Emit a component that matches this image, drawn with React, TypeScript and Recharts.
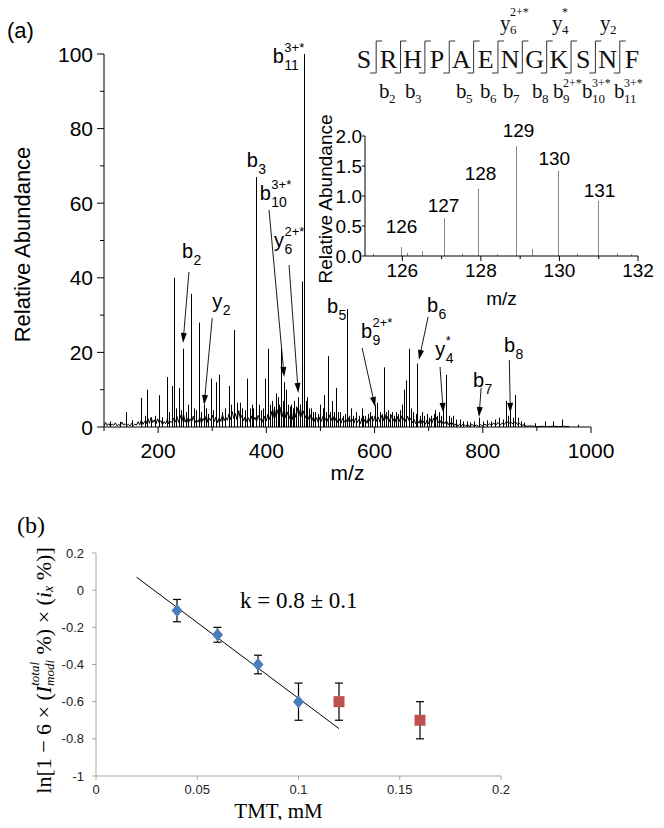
import React from "react";
import {
  ComposedChart,
  Bar,
  Line,
  Scatter,
  ErrorBar,
  XAxis,
  YAxis,
  ReferenceLine,
  ReferenceDot,
  Label,
} from "recharts";

const SANS = '"Liberation Sans", Arial, sans-serif';
const SERIF = '"Liberation Serif", "Times New Roman", serif';

// ---------- (a) MS/MS spectrum: [m/z, relative abundance] ----------
const spectrumPeaks: [number, number][] = [
  [111, 1.5], [129, 1.4], [141, 4], [152, 1.8], [168, 7.8], [175, 3], [180, 10], [186, 2.5],
  [194, 3], [201, 8.5], [208, 2.6], [217, 13.4], [221, 4], [226, 11], [229, 40], [234, 5],
  [239, 10.5], [243, 4.5], [246, 21], [252, 4], [256, 6], [261, 35.7], [266, 5], [270, 4.5],
  [276, 28], [280, 4], [284, 6], [289, 5], [293, 3.5], [298, 13], [302, 4.5], [307, 12],
  [313, 14], [318, 4], [324, 5], [331, 11], [335, 6], [340, 26], [345, 6.5], [351, 6.5],
  [356, 5], [360, 4.5], [364, 13], [369, 5], [373, 6], [376, 5], [381, 67], [386, 6],
  [390, 4.5], [394, 5], [398, 13], [403, 21], [407, 6], [411, 7], [414, 5.5], [417, 9],
  [421, 8], [424, 6], [427, 21], [430, 7], [433, 12], [436, 10], [440, 6], [443, 5.5],
  [446, 6], [449, 5], [452, 7], [455, 5.5], [459, 8], [462, 6], [466, 39], [470, 100],
  [474, 7], [476, 8], [479, 5], [482, 5], [486, 4], [490, 4], [495, 3.5], [500, 6],
  [504, 5], [507, 8.5], [511, 4], [514, 19], [518, 4], [521, 7], [525, 4], [529, 10.5],
  [533, 4], [536, 4], [541, 3], [545, 3.5], [549, 31.6], [553, 3], [556, 5], [560, 3],
  [566, 4], [571, 3], [576, 5], [579, 3], [583, 3], [588, 3.5], [591, 4], [596, 3],
  [601, 6], [605, 6.5], [610, 4], [613, 3.5], [617, 16], [621, 4], [625, 4.5], [629, 3.5],
  [632, 4], [636, 3], [640, 4], [644, 3.5], [647, 4.5], [651, 6], [655, 10], [659, 12.5],
  [664, 21], [668, 5], [672, 4], [676, 3.5], [679, 17], [684, 3], [688, 4], [692, 3],
  [697, 3.5], [701, 2.5], [705, 3], [709, 3.5], [712, 4.5], [716, 3], [719, 4], [723, 3],
  [727, 6], [732, 14], [737, 3], [741, 2.5], [745, 3], [751, 2], [758, 2], [764, 1.5],
  [770, 1.5], [777, 1.2], [784, 1.5], [793, 2.5], [800, 1.5], [808, 1.8], [815, 1.5], [822, 2],
  [830, 2.5], [837, 2], [843, 7], [847, 3], [851, 4.5], [856, 2.5], [860, 8.6], [865, 2.5],
  [870, 1.5], [876, 1.2], [897, 1], [915, 1.5], [930, 1.5], [947, 2], [976, 0.6],
];

const baselineNoise: [number, number][] = [
  [100, 0.3], [103, 1.2], [106, 0.4], [109, 0.9], [112, 0.3], [115, 0.8], [118, 0.5], [121, 1.1],
  [124, 0.3], [127, 0.7], [130, 0.4], [133, 1.3], [136, 0.5], [139, 0.9], [142, 0.4], [145, 0.7],
  [148, 0.3], [151, 1.0], [154, 0.4], [157, 0.8], [160, 0.5], [163, 1.4], [166, 0.6], [169, 1.8],
  [172, 0.7], [175, 1.5], [178, 0.9], [181, 2.3], [184, 1.0], [187, 2.6], [190, 1.2], [193, 1.9],
  [196, 0.8], [199, 2.2], [202, 1.1], [205, 1.7], [208, 0.6], [211, 1.4], [214, 0.9], [217, 2.0],
  [220, 0.8], [223, 1.6], [226, 1.1], [229, 2.4], [232, 1.3], [235, 2.8], [238, 1.2], [241, 3.1],
  [244, 1.5], [247, 3.4], [250, 1.3], [253, 2.5], [256, 1.0], [259, 2.2], [262, 1.4], [265, 2.9],
  [268, 1.1], [271, 2.0], [274, 1.3], [277, 2.6], [280, 1.0], [283, 2.3], [286, 1.5], [289, 3.0],
  [292, 1.2], [295, 2.4], [298, 1.6], [301, 3.2], [304, 1.4], [307, 2.7], [310, 1.1], [313, 2.5],
  [316, 1.5], [319, 3.3], [322, 1.7], [325, 2.6], [328, 1.8], [331, 3.5], [334, 2.0], [337, 4.1],
  [340, 2.2], [343, 3.6], [346, 1.9], [349, 4.4], [352, 2.1], [355, 3.2], [358, 1.6], [361, 2.8],
  [364, 1.4], [367, 2.5], [370, 1.3], [373, 3.0], [376, 1.7], [379, 2.6], [382, 1.5], [385, 3.1],
  [388, 1.8], [391, 2.4], [394, 1.2], [397, 2.9], [400, 1.6], [403, 3.4], [406, 2.0], [409, 4.2],
  [412, 2.3], [415, 5.0], [418, 2.6], [421, 4.6], [424, 2.4], [427, 5.3], [430, 2.8], [433, 4.8],
  [436, 2.5], [439, 4.0], [442, 2.2], [445, 3.6], [448, 2.0], [451, 4.5], [454, 2.6], [457, 5.2],
  [460, 2.9], [463, 4.9], [466, 2.7], [469, 4.3], [472, 2.4], [475, 3.8], [478, 2.1], [481, 3.3],
  [484, 1.6], [487, 2.8], [490, 1.4], [493, 2.5], [496, 1.2], [499, 2.7], [502, 1.5], [505, 3.0],
  [508, 1.7], [511, 2.6], [514, 1.5], [517, 3.2], [520, 1.8], [523, 2.9], [526, 1.4], [529, 2.5],
  [532, 1.2], [535, 2.2], [538, 1.0], [541, 2.4], [544, 1.3], [547, 2.0], [550, 1.1], [553, 2.6],
  [556, 1.4], [559, 2.1], [562, 1.0], [565, 2.4], [568, 1.2], [571, 2.0], [574, 0.9], [577, 2.5],
  [580, 1.3], [583, 2.2], [586, 1.0], [589, 2.6], [592, 1.4], [595, 2.8], [598, 1.6], [601, 3.0],
  [604, 1.5], [607, 2.7], [610, 1.3], [613, 3.1], [616, 1.7], [619, 3.4], [622, 1.8], [625, 2.9],
  [628, 1.4], [631, 3.2], [634, 1.6], [637, 2.5], [640, 1.2], [643, 2.8], [646, 1.5], [649, 3.0],
  [652, 1.7], [655, 2.6], [658, 1.4], [661, 2.9], [664, 1.6], [667, 2.4], [670, 1.1], [673, 2.0],
  [676, 0.9], [679, 1.8], [682, 1.0], [685, 2.2], [688, 0.8], [691, 1.6], [694, 0.7], [697, 1.9],
  [700, 0.9], [703, 2.1], [706, 1.0], [709, 2.4], [712, 1.2], [715, 2.6], [718, 1.1], [721, 1.8],
  [724, 0.8], [727, 1.5], [730, 0.9], [733, 1.7], [736, 0.6], [739, 1.3], [742, 0.5], [745, 1.1],
  [748, 0.4], [751, 0.9], [754, 0.3], [757, 0.7], [760, 0.3], [764, 0.8], [768, 0.3], [772, 0.6],
  [776, 0.2], [780, 0.7], [784, 0.3], [788, 0.5], [792, 0.2], [796, 0.6], [800, 0.3], [804, 0.8],
  [808, 0.3], [812, 0.9], [816, 0.4], [820, 1.1], [824, 0.5], [828, 1.2], [832, 0.6], [836, 1.0],
  [840, 0.7], [844, 1.6], [848, 0.9], [852, 1.3], [856, 0.8], [860, 1.5], [864, 0.7], [868, 1.0],
  [872, 0.4], [876, 0.6], [880, 0.2], [890, 0.3], [900, 0.1], [910, 0.2], [920, 0.1], [930, 0.2],
  [940, 0.1], [950, 0.2], [960, 0.1],
];

// fragment ion annotations, anchored in (m/z, abundance)
const ionLabels = [
  { ion: "b", sub: "11", sup: "3+*", mz: 412, ab: 97.6 },
  { ion: "b", sub: "3", sup: "", mz: 364, ab: 69.7 },
  { ion: "b", sub: "10", sup: "3+*", mz: 388, ab: 60.9 },
  { ion: "y", sub: "6", sup: "2+*", mz: 414, ab: 48.3 },
  { ion: "b", sub: "2", sup: "", mz: 244, ab: 45.3 },
  { ion: "y", sub: "2", sup: "", mz: 300, ab: 32 },
  { ion: "b", sub: "5", sup: "", mz: 512, ab: 30.6 },
  { ion: "b", sub: "9", sup: "2+*", mz: 575, ab: 23.9 },
  { ion: "b", sub: "6", sup: "", mz: 697, ab: 30.8 },
  { ion: "y", sub: "4", sup: "*", mz: 712, ab: 19 },
  { ion: "b", sub: "7", sup: "", mz: 782, ab: 10.7 },
  { ion: "b", sub: "8", sup: "", mz: 839, ab: 20 },
];

const ionArrows = [
  { from: [257, 41.6], to: [246, 22.5] },
  { from: [300, 29.2], to: [285, 5.9] },
  { from: [405, 58.2], to: [433, 13.4] },
  { from: [442, 43.4], to: [459, 9.1] },
  { from: [577, 21.2], to: [601, 5.4] },
  { from: [699, 29.5], to: [682, 18] },
  { from: [721, 16.1], to: [727, 3.8] },
  { from: [797, 10.5], to: [793, 2.7] },
  { from: [849, 18], to: [851, 3.8] },
];

// inset: TMT reporter ions
const reporterPeaks: [number, number][] = [
  [125.25, 0.04], [125.96, 0.15], [126.12, 0.05], [126.5, 0.08], [127.05, 0.63], [127.5, 0.04],
  [127.93, 1.12], [128.4, 0.03], [128.89, 1.83], [129.3, 0.12], [129.95, 1.42], [130.45, 0.04],
  [130.97, 0.92], [131.45, 0.05], [131.8, 0.03],
];
const reporterLabels = [
  { text: "126", mz: 125.98, ab: 0.38 },
  { text: "127", mz: 127.05, ab: 0.73 },
  { text: "128", mz: 127.99, ab: 1.27 },
  { text: "129", mz: 128.96, ab: 1.98 },
  { text: "130", mz: 129.87, ab: 1.52 },
  { text: "131", mz: 131.02, ab: 0.98 },
];

// peptide scheme
const peptide = "SRHPAENGKSNF".split("");
const bFragments = [
  { n: "2", sup: "" }, { n: "3", sup: "" }, { n: "5", sup: "" }, { n: "6", sup: "" },
  { n: "7", sup: "" }, { n: "8", sup: "" }, { n: "9", sup: "2+*" }, { n: "10", sup: "3+*" },
  { n: "11", sup: "3+*" },
];
const yFragments = [
  { n: "6", sup: "2+*" }, { n: "4", sup: "*" }, { n: "2", sup: "" },
];
const bLabelX = [379, 405, 456, 480, 503, 532, 553, 582, 614];
const yLabelX = [500, 552, 600];

// ---------- (b) kinetics ----------
const tmtConc = [0.04, 0.06, 0.08, 0.1];
const lnRatio = [-0.11, -0.24, -0.4, -0.6];
const lnError = [0.06, 0.04, 0.05, 0.1];
const outlierConc = [0.12, 0.16];
const outlierRatio = [-0.6, -0.7];
const outlierError = [0.1, 0.1];
const fitX = [0.02, 0.12];
const fitY = [0.07, -0.745];

const peakData = spectrumPeaks.map(([mz, ab]) => ({ mz, ab }));
const noiseData = baselineNoise.map(([mz, ab]) => ({ mz, ab }));
const reporterData = reporterPeaks.map(([mz, ab]) => ({ mz, ab }));
const fitData = tmtConc.map((x, i) => ({ x, y: lnRatio[i], err: lnError[i] }));
const outlierData = outlierConc.map((x, i) => ({ x, y: outlierRatio[i], err: outlierError[i] }));
const lineData = fitX.map((x, i) => ({ x, y: fitY[i] }));

const specXTicks = [100, 200, 300, 400, 500, 600, 700, 800, 900, 1000];
const specYTicks = [0, 10, 20, 30, 40, 50, 60, 70, 80, 90, 100];
const insetXTicks = [126, 127, 128, 129, 130, 131, 132];
const insetYTicks = [0, 0.5, 1, 1.5, 2];

const SpecYTick = (p: any) => {
  const major = p.payload.value % 20 === 0;
  return (
    <g>
      <line x1={p.x - (major ? 7 : 4)} x2={p.x} y1={p.y} y2={p.y} stroke="#000" />
      {major && (
        <text x={p.x - 11} y={p.y} dy="0.36em" textAnchor="end" fontSize={21} fontFamily={SANS} fill="#000">
          {p.payload.value}
        </text>
      )}
    </g>
  );
};

const SpecXTick = (p: any) => {
  const major = p.payload.value % 200 === 0;
  return (
    <g>
      <line x1={p.x} x2={p.x} y1={p.y} y2={p.y + (major ? 6 : 4)} stroke="#000" />
      {major && (
        <text x={p.x} y={p.y + 31} textAnchor="middle" fontSize={21} fontFamily={SANS} fill="#000">
          {p.payload.value}
        </text>
      )}
    </g>
  );
};

const InsetYTick = (p: any) => (
  <g>
    <line x1={p.x - 3} x2={p.x} y1={p.y} y2={p.y} stroke="#000" />
    <text x={p.x - 3} y={p.y} dy="0.36em" textAnchor="end" fontSize={19} fontFamily={SANS} fill="#000">
      {p.payload.value.toFixed(1)}
    </text>
  </g>
);

const InsetXTick = (p: any) => {
  const major = p.payload.value % 2 === 0;
  return (
    <g>
      <line x1={p.x} x2={p.x} y1={p.y} y2={p.y + (major ? 5 : 3)} stroke="#000" />
      {major && (
        <text x={p.x} y={p.y + 21} textAnchor="middle" fontSize={19} fontFamily={SANS} fill="#000">
          {p.payload.value}
        </text>
      )}
    </g>
  );
};

// crisp 1px stick for each peak
const stick = (color: string) => (p: any) => {
  if (!p.height) return <g />;
  const cx = Math.round(p.x + p.width / 2) + 0.5;
  return <line x1={cx} x2={cx} y1={p.y} y2={p.y + p.height} stroke={color} strokeWidth={1} />;
};

const Arrow = (p: any) => {
  const { x1, y1, x2, y2 } = p;
  const ang = Math.atan2(y2 - y1, x2 - x1);
  const len = 10;
  const half = 3;
  const bx = x2 - len * Math.cos(ang);
  const by = y2 - len * Math.sin(ang);
  const px = -Math.sin(ang) * half;
  const py = Math.cos(ang) * half;
  return (
    <g>
      <line x1={x1} y1={y1} x2={bx} y2={by} stroke="#000" strokeWidth={0.9} />
      <polygon points={`${x2},${y2} ${bx + px},${by + py} ${bx - px},${by - py}`} fill="#000" />
    </g>
  );
};

const ionShape = (ion: string, sub: string, sup: string) => (p: any) => {
  const w = ion === "b" ? 11.5 : 10.5;
  return (
    <g fontFamily={SANS} fill="#000">
      <text x={p.cx} y={p.cy} fontSize={20}>{ion}</text>
      <text x={p.cx + w} y={p.cy + 7} fontSize={14}>{sub}</text>
      {sup && <text x={p.cx + w} y={p.cy - 11} fontSize={13}>{sup}</text>}
    </g>
  );
};

const reporterShape = (t: string) => (p: any) => (
  <text x={p.cx} y={p.cy} textAnchor="middle" fontSize={19} fontFamily={SANS} fill="#000">{t}</text>
);

const Diamond = (p: any) => (
  <polygon
    points={`${p.cx},${p.cy - 6.5} ${p.cx + 5.5},${p.cy} ${p.cx},${p.cy + 6.5} ${p.cx - 5.5},${p.cy}`}
    fill="#4a7ebb"
  />
);
const Square = (p: any) => <rect x={p.cx - 5.5} y={p.cy - 5.5} width={11} height={11} fill="#c0504d" />;

const kShape = (p: any) => (
  <text x={p.cx} y={p.cy} fontSize={23} fontFamily={SERIF} fill="#000">k = 0.8 ± 0.1</text>
);

const PeptideScheme = () => {
  const cx = (i: number) => 364 + i * 24.36;
  return (
    <g fontFamily={SERIF} fill="#111">
      {peptide.map((aa, i) => (
        <text key={"aa" + i} x={cx(i)} y={68} textAnchor="middle" fontSize={26}>{aa}</text>
      ))}
      {peptide.slice(1).map((_, i) => {
        const sx = (cx(i) + cx(i + 1)) / 2;
        return (
          <path key={"sep" + i} d={`M${sx - 6},73 H${sx} V41 H${sx + 6}`} fill="none" stroke="#333" strokeWidth={1} />
        );
      })}
      {bFragments.map((f, i) => (
        <g key={"b" + i}>
          <text x={bLabelX[i]} y={98} fontSize={21}>b</text>
          <text x={bLabelX[i] + 10} y={103} fontSize={13}>{f.n}</text>
          {f.sup && <text x={bLabelX[i] + 10} y={87} fontSize={12}>{f.sup}</text>}
        </g>
      ))}
      {yFragments.map((f, i) => (
        <g key={"y" + i}>
          <text x={yLabelX[i]} y={30} fontSize={21}>y</text>
          <text x={yLabelX[i] + 10} y={34} fontSize={13}>{f.n}</text>
          {f.sup && <text x={yLabelX[i] + 10} y={16} fontSize={12}>{f.sup}</text>}
        </g>
      ))}
    </g>
  );
};

const App: React.FC = () => {
  return (
    <div style={{ position: "relative", width: 664, height: 828, margin: -8, background: "#fff", overflow: "hidden" }}>
      {/* (a) main spectrum */}
      <div style={{ position: "absolute", left: 0, top: 0 }}>
        <ComposedChart width={664} height={500} data={peakData} margin={{ top: 54, right: 73, left: 44, bottom: 43 }}>
          <XAxis
            dataKey="mz"
            type="number"
            domain={[100, 1000]}
            ticks={specXTicks}
            interval={0}
            allowDataOverflow
            height={30}
            tickSize={0}
            tickMargin={0}
            tickLine={false}
            tick={<SpecXTick />}
            axisLine={{ stroke: "#000" }}
          >
            <Label
              content={(p: any) => (
                <text x={p.viewBox.x + p.viewBox.width / 2} y={p.viewBox.y + 53} textAnchor="middle" fontSize={21} fontFamily={SANS} fill="#000">
                  m/z
                </text>
              )}
            />
          </XAxis>
          <YAxis
            type="number"
            domain={[0, 100]}
            ticks={specYTicks}
            interval={0}
            allowDataOverflow
            width={60}
            tickSize={0}
            tickMargin={0}
            tickLine={false}
            tick={<SpecYTick />}
            axisLine={{ stroke: "#000" }}
          >
            <Label
              content={(p: any) => {
                const x = p.viewBox.x - 22;
                const y = p.viewBox.y + p.viewBox.height / 2 + 4;
                return (
                  <text x={x} y={y} transform={`rotate(-90 ${x} ${y})`} textAnchor="middle" dominantBaseline="central" fontSize={22} fontFamily={SANS} fill="#000">
                    Relative Abundance
                  </text>
                );
              }}
            />
          </YAxis>
          <Line data={noiseData} dataKey="ab" type="linear" stroke="#000" strokeWidth={1} dot={false} isAnimationActive={false} />
          <Bar dataKey="ab" barSize={1} fill="#000" shape={stick("#000")} isAnimationActive={false} />
          {ionArrows.map((a, i) => (
            <ReferenceLine
              key={"arr" + i}
              segment={[{ x: a.from[0], y: a.from[1] }, { x: a.to[0], y: a.to[1] }]}
              shape={Arrow}
            />
          ))}
          {ionLabels.map((l, i) => (
            <ReferenceDot key={"ion" + i} x={l.mz} y={l.ab} r={1} shape={ionShape(l.ion, l.sub, l.sup)} />
          ))}
        </ComposedChart>
      </div>

      {/* (a) inset: reporter ions */}
      <div style={{ position: "absolute", left: 300, top: 110 }}>
        <ComposedChart width={364} height={205} data={reporterData} margin={{ top: 26, right: 26, left: 25, bottom: 29 }}>
          <XAxis
            dataKey="mz"
            type="number"
            domain={[125.05, 132]}
            ticks={insetXTicks}
            interval={0}
            allowDataOverflow
            height={30}
            tickSize={0}
            tickMargin={0}
            tickLine={false}
            tick={<InsetXTick />}
            axisLine={{ stroke: "#000" }}
          >
            <Label
              content={(p: any) => (
                <text x={p.viewBox.x + p.viewBox.width / 2} y={p.viewBox.y + 49} textAnchor="middle" fontSize={19} fontFamily={SANS} fill="#000">
                  m/z
                </text>
              )}
            />
          </XAxis>
          <YAxis
            type="number"
            domain={[0, 2]}
            ticks={insetYTicks}
            interval={0}
            allowDataOverflow
            width={40}
            tickSize={0}
            tickMargin={0}
            tickLine={false}
            tick={<InsetYTick />}
            axisLine={{ stroke: "#000" }}
          >
            <Label
              content={(p: any) => {
                const x = p.viewBox.x;
                const y = p.viewBox.y + p.viewBox.height / 2 + 3;
                return (
                  <text x={x} y={y} transform={`rotate(-90 ${x} ${y})`} textAnchor="middle" dominantBaseline="central" fontSize={19} fontFamily={SANS} fill="#000">
                    Relative Abundance
                  </text>
                );
              }}
            />
          </YAxis>
          <Bar dataKey="ab" barSize={1} fill="#888" shape={stick("#888")} isAnimationActive={false} />
          {reporterLabels.map((l, i) => (
            <ReferenceDot key={"rep" + i} x={l.mz} y={l.ab} r={1} shape={reporterShape(l.text)} />
          ))}
        </ComposedChart>
      </div>

      {/* (b) kinetics */}
      <div style={{ position: "absolute", left: 0, top: 500 }}>
        <ComposedChart width={664} height={328} margin={{ top: 53, right: 163, left: 46, bottom: 22 }}>
          <XAxis
            dataKey="x"
            type="number"
            domain={[0, 0.2]}
            ticks={[0, 0.05, 0.1, 0.15, 0.2]}
            interval={0}
            height={30}
            tickSize={4}
            tickMargin={5}
            stroke="#a6a6a6"
            tick={{ fontSize: 13, fontFamily: SANS, fill: "#222" }}
          >
            <Label
              content={(p: any) => (
                <text x={p.viewBox.x + p.viewBox.width / 2 - 20} y={p.viewBox.y + 42} textAnchor="middle" fontSize={21} fontFamily={SERIF} fill="#000">
                  TMT, mM
                </text>
              )}
            />
          </XAxis>
          <YAxis
            type="number"
            domain={[-1, 0.2]}
            ticks={[-1, -0.8, -0.6, -0.4, -0.2, 0, 0.2]}
            interval={0}
            width={50}
            tickSize={4}
            tickMargin={8}
            stroke="#a6a6a6"
            tick={{ fontSize: 13, fontFamily: SANS, fill: "#222" }}
          >
            <Label
              content={(p: any) => {
                const x = p.viewBox.x - 3;
                const y = p.viewBox.y + p.viewBox.height / 2 + 6;
                return (
                  <text x={x} y={y} transform={`rotate(-90 ${x} ${y})`} textAnchor="middle" dominantBaseline="central" fontSize={22} fontFamily={SERIF} fill="#000">
                    ln[1 − 6 × (<tspan fontStyle="italic">I</tspan>
                    <tspan fontStyle="italic" fontSize={13} dy={-9}>total</tspan>
                    <tspan fontStyle="italic" fontSize={13} dx={-24} dy={15}>modi</tspan>
                    <tspan dy={-6}> %) × (</tspan>
                    <tspan fontStyle="italic">i</tspan>
                    <tspan fontStyle="italic" fontSize={14} dy={5}>x</tspan>
                    <tspan dy={-5}> %)]</tspan>
                  </text>
                );
              }}
            />
          </YAxis>
          <Line data={lineData} dataKey="y" type="linear" stroke="#000" strokeWidth={1} dot={false} isAnimationActive={false} />
          <Scatter data={fitData} dataKey="y" shape={Diamond} isAnimationActive={false}>
            <ErrorBar dataKey="err" direction="y" width={4} stroke="#000" strokeWidth={1.2} />
          </Scatter>
          <Scatter data={outlierData} dataKey="y" shape={Square} isAnimationActive={false}>
            <ErrorBar dataKey="err" direction="y" width={4} stroke="#000" strokeWidth={1.2} />
          </Scatter>
          <ReferenceDot x={0.0711} y={-0.096} r={1} shape={kShape} />
        </ComposedChart>
      </div>

      {/* panel letters and peptide scheme */}
      <svg width={664} height={828} style={{ position: "absolute", left: 0, top: 0, pointerEvents: "none" }}>
        <text x={7} y={38} fontSize={22} fontFamily={SANS} fill="#000">(a)</text>
        <text x={17} y={533} fontSize={24} fontFamily={SERIF} fill="#000">(b)</text>
        <PeptideScheme />
      </svg>
    </div>
  );
};

export default App;
